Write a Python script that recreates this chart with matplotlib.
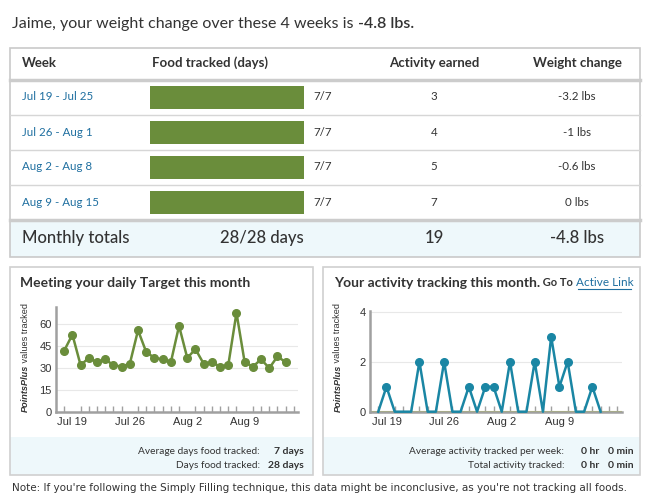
import matplotlib
matplotlib.use("Agg")
import matplotlib.pyplot as plt
from matplotlib.patches import Rectangle

# -------- dados --------
weeks = ["Jul 19 - Jul 25", "Jul 26 - Aug 1", "Aug 2 - Aug 8", "Aug 9 - Aug 15"]
food_days = [7, 7, 7, 7]
activity_earned = [3, 4, 5, 7]
weight_change = [-3.2, -1, -0.6, 0]

daily_points = [42, 53, 32, 37, 34, 36, 32, 31, 33, 56, 41, 37, 36, 34,
                59, 37, 43, 33, 34, 31, 32, 68, 34, 31, 36, 30, 38, 34]
daily_activity = [0, 1, 0, 0, 0, 2, 0, 0, 2, 0, 0, 1, 0, 1,
                  1, 0, 2, 0, 0, 2, 0, 3, 1, 2, 0, 0, 1, 0]
tick_days = [1, 8, 15, 22]
tick_labels = ["Jul 19", "Jul 26", "Aug 2", "Aug 9"]

# -------- cores / fontes --------
W, H = 650, 500
DARK = "#333333"
BLUE = "#1f6fa0"
GREEN = "#6a8d3b"
TEAL = "#1a86a4"
BORDER = "#c9c9c9"
STRIP = "#eef8fb"
MAIN_FONT = ["Lato", "DejaVu Sans"]
CHART_FONT = ["Liberation Sans", "DejaVu Sans"]


def px(x0, y0, x1, y1):
    # caixa em pixels (y para baixo) -> coordenadas da figura
    return [x0 / W, 1 - y1 / H, (x1 - x0) / W, (y1 - y0) / H]


fig = plt.figure(figsize=(6.5, 5), dpi=100)
bg = fig.add_axes([0, 0, 1, 1])
bg.set_xlim(0, W)
bg.set_ylim(H, 0)
bg.axis("off")

# -------- titulo --------
t = bg.text(12, 24, "Jaime, your weight change over these 4 weeks is ", fontsize=11.5,
            family=MAIN_FONT, color=DARK, va="center", ha="left")
bg.annotate("-4.8 lbs.", xy=(1, 0.5), xycoords=t, fontsize=11.5, family=MAIN_FONT,
            fontweight="semibold", color=DARK, va="center", ha="left")

# -------- tabela --------
bg.add_patch(Rectangle((9.5, 220), 630.5, 36.5, facecolor=STRIP, edgecolor="none"))
bg.add_patch(Rectangle((9.5, 47.5), 630.5, 209, facecolor="none", edgecolor=BORDER, lw=1.2))
bg.plot([9.5, 640], [80, 80], color="#cccccc", lw=2.5)
bg.plot([9.5, 640], [220, 220], color="#cccccc", lw=2.5)
for yy in [115, 150, 185]:
    bg.plot([9.5, 640], [yy, yy], color="#d6d6d6", lw=1)

hdr = dict(fontsize=9.5, family=MAIN_FONT, fontweight="bold", color=DARK, va="center")
bg.text(22, 63, "Week", ha="left", **hdr)
bg.text(152, 63, "Food tracked (days)", ha="left", **hdr)
bg.text(434, 63, "Activity earned", ha="center", **hdr)
bg.text(577, 63, "Weight change", ha="center", **hdr)

row_y = [97, 132, 167, 202]
for i in range(len(weeks)):
    yy = row_y[i]
    bg.text(22, yy, weeks[i], fontsize=8.3, family=MAIN_FONT, color=BLUE, va="center")
    bg.text(313, yy, f"{food_days[i]}/7", fontsize=8.3, family=MAIN_FONT, color=DARK, va="center")
    bg.text(434, yy, str(activity_earned[i]), fontsize=8.3, family=MAIN_FONT, color=DARK,
            va="center", ha="center")
    bg.text(577, yy, f"{weight_change[i]:g} lbs", fontsize=8.3, family=MAIN_FONT, color=DARK,
            va="center", ha="center")

# barras de comida
barax = fig.add_axes(px(150, 80, 304, 220))
barax.barh(range(len(food_days)), food_days, height=0.63, color=GREEN)
barax.set_xlim(0, 7)
barax.set_ylim(len(food_days) - 0.5, -0.5)
barax.axis("off")

tot = dict(fontsize=12, family=MAIN_FONT, fontweight="medium", color=DARK, va="center")
bg.text(22, 238, "Monthly totals", ha="left", **tot)
bg.text(304, 238, f"{sum(food_days)}/{7 * len(food_days)} days", ha="right", **tot)
bg.text(434, 238, str(sum(activity_earned)), ha="center", **tot)
bg.text(577, 238, f"{sum(weight_change):g} lbs", ha="center", **tot)

# -------- paineis --------
for x0, x1 in [(9.5, 313), (323, 640)]:
    bg.add_patch(Rectangle((x0, 437), x1 - x0, 38, facecolor=STRIP, edgecolor="none"))
    bg.add_patch(Rectangle((x0, 267), x1 - x0, 208, facecolor="none", edgecolor="#d0d0d0", lw=1.2))

ptitle = dict(fontsize=10, family=MAIN_FONT, fontweight="bold", color=DARK, va="center")
bg.text(20, 283, "Meeting your daily Target this month", ha="left", **ptitle)
t2 = bg.text(334, 283, "Your activity tracking this month.", ha="left", **ptitle)
t3 = bg.annotate(" Go To ", xy=(1, 0.5), xycoords=t2, fontsize=8, family=MAIN_FONT,
                 fontweight="bold", color=DARK, va="center", ha="left")
bg.annotate("Active Link", xy=(1, 0.5), xycoords=t3, fontsize=8.5, family=MAIN_FONT,
            color=BLUE, va="center", ha="left")
bg.plot([578, 631], [289, 289], color=BLUE, lw=0.8)

# rotulo do eixo y
for xl in [25, 338]:
    p = bg.text(xl, 412, "PointsPlus", rotation=90, fontsize=6.6, family=CHART_FONT,
                fontweight="bold", style="italic", color=DARK, ha="center", va="bottom")
    bg.annotate(" values tracked", xy=(0.5, 1), xycoords=p, rotation=90, fontsize=6.6,
                family=CHART_FONT, color=DARK, ha="center", va="bottom")

# estatisticas
st = dict(fontsize=7.3, family=MAIN_FONT, color=DARK, va="center")
stb = dict(fontsize=7.5, family=MAIN_FONT, color=DARK, va="center", fontweight="bold")
bg.text(260, 451, "Average days food tracked:", ha="right", **st)
bg.text(260, 466, "Days food tracked:", ha="right", **st)
bg.text(304, 451, f"{sum(food_days) // len(food_days)} days", ha="right", **stb)
bg.text(304, 466, f"{sum(food_days)} days", ha="right", **stb)
bg.text(564, 451, "Average activity tracked per week:", ha="right", **st)
bg.text(564, 466, "Total activity tracked:", ha="right", **st)
for yy in [451, 466]:
    bg.text(581, yy, "0 hr", ha="left", **stb)
    bg.text(608, yy, "0 min", ha="left", **stb)

bg.text(12, 488, "Note: If you're following the Simply Filling technique, this data might be "
        "inconclusive, as you're not tracking all foods.", fontsize=7.5,
        family=["DejaVu Sans"], color=DARK, va="center", ha="left")


# -------- graficos --------
def style_chart(ax, ymax, yticks, xmax, nticks):
    ax.set_ylim(0, ymax)
    ax.set_xlim(-1, xmax)
    ax.set_yticks(yticks)
    ax.set_xticks(tick_days)
    ax.set_xticklabels(tick_labels)
    ax.set_xticks(range(nticks), minor=True)
    for s in ["top", "right"]:
        ax.spines[s].set_visible(False)
    for s in ["left", "bottom"]:
        ax.spines[s].set_color("#a0a0a0")
        ax.spines[s].set_linewidth(1.8)
    ax.tick_params(axis="y", length=0, pad=3, labelsize=8, labelcolor=DARK)
    ax.tick_params(axis="x", which="major", length=0, pad=4, labelsize=8, labelcolor=DARK)
    ax.tick_params(axis="x", which="minor", direction="in", length=4, width=1, color="#a0a0a0")
    for lab in ax.get_xticklabels() + ax.get_yticklabels():
        lab.set_family(CHART_FONT)
    for yv in yticks[1:]:
        ax.axhline(yv, color="#e8e8e8", lw=0.8, zorder=0)
    ax.patch.set_alpha(0)


days = list(range(len(daily_points)))

ax1 = fig.add_axes(px(56, 307, 298, 411.7))
ax1.plot(days, daily_points, color=GREEN, lw=1.8, marker="o", markersize=5.5, zorder=3,
         clip_on=False)
style_chart(ax1, 72, [0, 15, 30, 45, 60], 28.5, 29)

ax2 = fig.add_axes(px(370, 310.5, 622, 411.7))
ax2.axhline(0, color="#bccb4a", lw=1.5, zorder=2)
ax2.plot(days, daily_activity, color=TEAL, lw=1.8, zorder=3, clip_on=False)
act_x = [d for d in days if daily_activity[d] > 0]
act_y = [daily_activity[d] for d in act_x]
ax2.plot(act_x, act_y, "o", color=TEAL, markersize=5.5, zorder=4, clip_on=False)
style_chart(ax2, 4.05, [0, 2, 4], 29.6, 30)

fig.savefig("out.png", dpi=100)
